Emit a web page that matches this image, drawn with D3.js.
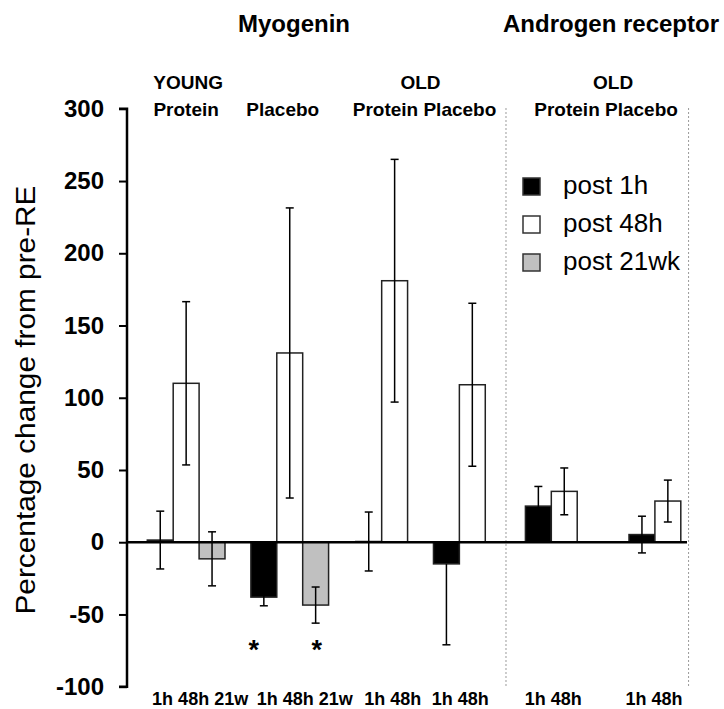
<!DOCTYPE html>
<html>
<head>
<meta charset="utf-8">
<script src="https://cdn.jsdelivr.net/npm/d3@7"></script>
<style>
  html, body { margin: 0; padding: 0; background: #fff; }
  svg { display: block; font-family: "Liberation Sans", Arial, Helvetica, sans-serif; }
</style>
</head>
<body>
<svg id="chart" width="724" height="709"></svg>
<script>
// ---- data ----------------------------------------------------------------
const groupNames = ["YOUNG Protein", "YOUNG Placebo", "OLD Protein", "OLD Placebo",
                    "AR OLD Protein", "AR OLD Placebo"];
const groupTickLabels = ["1h 48h 21w", "1h 48h 21w", "1h 48h", "1h 48h", "1h 48h", "1h 48h"];
const timepoints = ["post 1h", "post 48h", "post 21wk"];

// one entry per bar
const barGroup = [0, 0, 0, 1, 1, 1, 2, 2, 3, 3, 4, 4, 5, 5];
const barTime  = [0, 1, 2, 0, 1, 2, 0, 1, 0, 1, 0, 1, 0, 1];
const barValue = [1.5, 110, -11.5, -38, 131, -43.5, 0.5, 181, -15, 109, 25, 35.2, 5.3, 28.5];
const errUp    = [20, 56.5, 18.7, 6, 100.4, 12.5, 20.4, 84, 0, 56.4, 13.6, 16.2, 12.7, 14.5];
const errDown  = [20, 56.5, 18.7, 6, 100.4, 12.5, 20.4, 84, 56, 56.4, 13.6, 16.2, 12.7, 14.5];
const significant = [3, 5];   // bars marked with *

const yTicks = [-100, -50, 0, 50, 100, 150, 200, 250, 300];

// ---- layout ----------------------------------------------------------------
const groupSlotStart = [0, 4, 8.05, 11.05, 14.6, 18.6];  // in bar-width units
const separatorSlots = [13.85, 20.9];
const tickLabelShift = [14, 15, 11, 1, 2, -1];
const starShift = [-10, 1];

const fills = ["#000000", "#ffffff", "#c0c0c0"];
const font = "'Liberation Sans', Arial, Helvetica, sans-serif";

const svg = d3.select("#chart");

const x = d3.scaleLinear().domain([0, 20.6]).range([147.3, 680.8]);
const y = d3.scaleLinear().domain([-100, 300]).range([686.7, 108.8]);
const bw = x(1) - x(0);

const bars = barValue.map((v, i) => ({
  v, g: barGroup[i], t: barTime[i], up: errUp[i], down: errDown[i],
  slot: groupSlotStart[barGroup[i]] + barGroup.slice(0, i).filter(g => g === barGroup[i]).length
}));

// ---- section separators (dotted) ----
svg.selectAll("line.sep").data(separatorSlots).join("line")
  .attr("class", "sep")
  .attr("x1", d => x(d)).attr("x2", d => x(d))
  .attr("y1", 108).attr("y2", 687)
  .attr("stroke", "#9a9a9a").attr("stroke-width", 1)
  .attr("stroke-dasharray", "2,2");

// ---- bars ----
svg.selectAll("rect.bar").data(bars).join("rect")
  .attr("class", "bar")
  .attr("x", d => x(d.slot))
  .attr("width", bw)
  .attr("y", d => Math.min(y(d.v), y(0)))
  .attr("height", d => Math.abs(y(d.v) - y(0)))
  .attr("fill", d => fills[d.t])
  .attr("stroke", "#222")
  .attr("stroke-width", 1.5);

// ---- error bars ----
const cap = 4;
const eb = svg.append("g").attr("stroke", "#000").attr("stroke-width", 1.5);
bars.forEach(d => {
  const cx = x(d.slot + 0.5);
  const top = d.v + d.up, bot = d.v - d.down;
  eb.append("line").attr("x1", cx).attr("x2", cx).attr("y1", y(top)).attr("y2", y(bot));
  if (d.up > 0) eb.append("line").attr("x1", cx - cap).attr("x2", cx + cap).attr("y1", y(top)).attr("y2", y(top));
  if (d.down > 0) eb.append("line").attr("x1", cx - cap).attr("x2", cx + cap).attr("y1", y(bot)).attr("y2", y(bot));
});

// ---- zero baseline ----
svg.append("line")
  .attr("x1", 127).attr("x2", 687)
  .attr("y1", y(0)).attr("y2", y(0))
  .attr("stroke", "#000").attr("stroke-width", 2.5);

// ---- y axis ----
const yAxis = svg.append("g")
  .attr("transform", "translate(127,0)")
  .call(d3.axisLeft(y).tickValues(yTicks).tickSize(8).tickPadding(15).tickFormat(d => String(d)));
yAxis.select(".domain").attr("stroke", "#000").attr("stroke-width", 2.5)
  .attr("d", `M-8,${y(300)}H0V${y(-100)}H-8`);
yAxis.selectAll(".tick line").attr("stroke", "#000").attr("stroke-width", 2);
yAxis.selectAll(".tick text")
  .attr("fill", "#000")
  .style("font-family", font).style("font-size", "24px").style("font-weight", "bold");

svg.append("text")
  .attr("transform", "translate(35,400) rotate(-90)")
  .attr("text-anchor", "middle")
  .attr("textLength", 429).attr("lengthAdjust", "spacingAndGlyphs")
  .style("font-size", "27px")
  .text("Percentage change from pre-RE");

// ---- group tick labels under the axis ----
const groupSpan = g => {
  const n = barGroup.filter(b => b === g).length;
  return [x(groupSlotStart[g]), x(groupSlotStart[g] + n)];
};
svg.selectAll("text.glabel").data(groupTickLabels).join("text")
  .attr("class", "glabel")
  .attr("x", (d, i) => { const s = groupSpan(i); return (s[0] + s[1]) / 2 + tickLabelShift[i]; })
  .attr("y", 705)
  .attr("text-anchor", "middle")
  .style("font-size", "18px").style("font-weight", "bold")
  .text(d => d);

// ---- significance stars ----
svg.selectAll("text.star").data(significant).join("text")
  .attr("class", "star")
  .attr("x", (d, i) => x(bars[d].slot + 0.5) + starShift[i])
  .attr("y", 659)
  .attr("text-anchor", "middle")
  .style("font-size", "27px").style("font-weight", "bold")
  .text("*");

// ---- headings ----
svg.append("text").attr("x", 294).attr("y", 32).attr("text-anchor", "middle")
  .style("font-size", "24px").style("font-weight", "bold").text("Myogenin");
svg.append("text").attr("x", 611).attr("y", 32).attr("text-anchor", "middle")
  .style("font-size", "24px").style("font-weight", "bold").text("Androgen receptor");

const centerOf = (a, b) => (groupSpan(a)[0] + groupSpan(b)[1]) / 2;
const subHeads = [
  { text: "YOUNG", x: centerOf(0, 0) + 2, y: 89 },
  { text: "Protein", x: centerOf(0, 0), y: 116 },
  { text: "Placebo", x: centerOf(1, 1) - 7, y: 116 },
  { text: "OLD", x: centerOf(2, 3), y: 89 },
  { text: "Protein Placebo", x: centerOf(2, 3) + 4, y: 116 },
  { text: "OLD", x: centerOf(4, 5) + 10, y: 89 },
  { text: "Protein Placebo", x: centerOf(4, 5) + 3, y: 116 }
];
svg.selectAll("text.sub").data(subHeads).join("text")
  .attr("class", "sub")
  .attr("x", d => d.x).attr("y", d => d.y)
  .attr("text-anchor", "middle")
  .style("font-size", "19px").style("font-weight", "bold")
  .text(d => d.text);

// ---- legend ----
const legend = svg.append("g").attr("transform", "translate(523,178)");
const lg = legend.selectAll("g").data(timepoints).join("g")
  .attr("transform", (d, i) => `translate(0,${i * 38})`);
lg.append("rect").attr("width", 17).attr("height", 17)
  .attr("fill", (d, i) => fills[i]).attr("stroke", "#333").attr("stroke-width", 1.5);
lg.append("text").attr("x", 40).attr("y", 16)
  .style("font-size", "26px")
  .text(d => d);
</script>
</body>
</html>
